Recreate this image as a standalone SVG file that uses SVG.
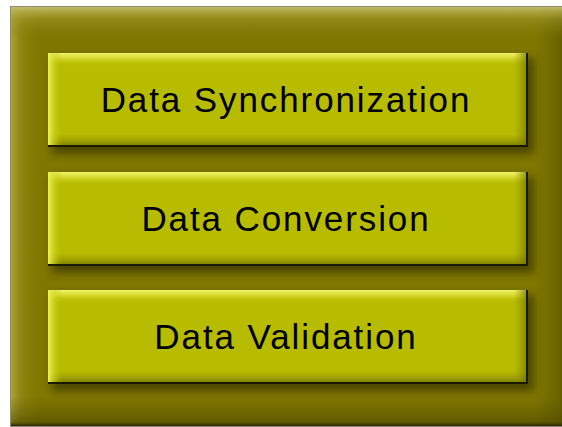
<svg xmlns="http://www.w3.org/2000/svg" width="562" height="427" viewBox="0 0 562 427">
  <defs>
    <linearGradient id="oV" x1="0" y1="0" x2="0" y2="1">
      <stop offset="0" stop-color="#c8c270" stop-opacity="0.9"/>
      <stop offset="0.03" stop-color="#a49c30" stop-opacity="0.5"/>
      <stop offset="0.08" stop-color="#7f7700" stop-opacity="0"/>
      <stop offset="0.93" stop-color="#5a5300" stop-opacity="0"/>
      <stop offset="0.99" stop-color="#4e4800" stop-opacity="0.6"/>
      <stop offset="1" stop-color="#2a2600" stop-opacity="1"/>
    </linearGradient>
    <linearGradient id="oH" x1="0" y1="0" x2="1" y2="0">
      <stop offset="0" stop-color="#b0a840" stop-opacity="0.9"/>
      <stop offset="0.02" stop-color="#9a9220" stop-opacity="0.5"/>
      <stop offset="0.06" stop-color="#7f7700" stop-opacity="0"/>
      <stop offset="0.95" stop-color="#5a5300" stop-opacity="0"/>
      <stop offset="1" stop-color="#4e4800" stop-opacity="0.5"/>
    </linearGradient>
    <linearGradient id="bV" x1="0" y1="0" x2="0" y2="1">
      <stop offset="0" stop-color="#f2f66a" stop-opacity="1"/>
      <stop offset="0.06" stop-color="#dfe440" stop-opacity="0.7"/>
      <stop offset="0.14" stop-color="#b8bc00" stop-opacity="0"/>
      <stop offset="0.86" stop-color="#8e9000" stop-opacity="0"/>
      <stop offset="1" stop-color="#6e7000" stop-opacity="0.9"/>
    </linearGradient>
    <linearGradient id="bH" x1="0" y1="0" x2="1" y2="0">
      <stop offset="0" stop-color="#eef450" stop-opacity="1"/>
      <stop offset="0.012" stop-color="#d8de30" stop-opacity="0.6"/>
      <stop offset="0.03" stop-color="#b8bc00" stop-opacity="0"/>
      <stop offset="0.97" stop-color="#8e9000" stop-opacity="0"/>
      <stop offset="1" stop-color="#6e7000" stop-opacity="0.8"/>
    </linearGradient>
    <filter id="sh" x="-10%" y="-20%" width="120%" height="150%">
      <feGaussianBlur stdDeviation="4"/>
    </filter>
    <style>
      .base{fill:#b8bc00}
      .gv{fill:url(#bV)}
      .gh{fill:url(#bH)}
      .shadow{fill:#2a2600;opacity:0.6;filter:url(#sh)}
      .edge{fill:none;stroke:#1a1a00;stroke-width:2}
      .lbl{font-family:"Liberation Sans",Arial,sans-serif;font-size:35px;letter-spacing:1.9px;fill:#000;text-anchor:middle}
    </style>
  </defs>
  <rect width="562" height="427" fill="#ffffff"/>
  <g id="container">
    <rect x="11" y="7" width="551" height="419" fill="#7f7700"/>
    <rect x="11" y="7" width="551" height="419" fill="url(#oH)"/>
    <rect x="11" y="7" width="551" height="419" fill="url(#oV)"/>
    <rect x="10.5" y="6.5" width="552" height="420" fill="none" stroke="#8a8a80" stroke-width="1"/>
  </g>
  <g id="node-sync">
    <rect class="shadow" x="52" y="58" width="482" height="96"/>
    <rect class="base" x="48" y="53" width="480" height="94"/>
    <rect class="gv" x="48" y="53" width="480" height="94"/>
    <rect class="gh" x="48" y="53" width="480" height="94"/>
    <polyline class="edge" points="48,146 527,146 527,53"/>
    <text class="lbl" x="286" y="112">Data Synchronization</text>
  </g>
  <g id="node-conv">
    <rect class="shadow" x="52" y="177" width="482" height="96"/>
    <rect class="base" x="48" y="172" width="480" height="94"/>
    <rect class="gv" x="48" y="172" width="480" height="94"/>
    <rect class="gh" x="48" y="172" width="480" height="94"/>
    <polyline class="edge" points="48,265 527,265 527,172"/>
    <text class="lbl" x="286" y="231">Data Conversion</text>
  </g>
  <g id="node-valid">
    <rect class="shadow" x="52" y="295" width="482" height="96"/>
    <rect class="base" x="48" y="290" width="480" height="94"/>
    <rect class="gv" x="48" y="290" width="480" height="94"/>
    <rect class="gh" x="48" y="290" width="480" height="94"/>
    <polyline class="edge" points="48,383 527,383 527,290"/>
    <text class="lbl" x="286" y="349">Data Validation</text>
  </g>
  <g id="connectors"/>
</svg>
